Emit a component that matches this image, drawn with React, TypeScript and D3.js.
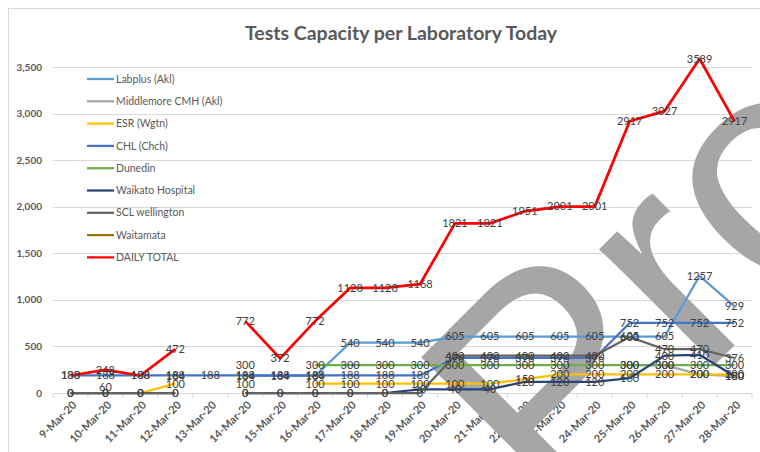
import React, { useEffect, useRef } from "react";
import * as d3 from "d3";

const dates = [
  "9-Mar-20", "10-Mar-20", "11-Mar-20", "12-Mar-20", "13-Mar-20",
  "14-Mar-20", "15-Mar-20", "16-Mar-20", "17-Mar-20", "18-Mar-20",
  "19-Mar-20", "20-Mar-20", "21-Mar-20", "22-Mar-20", "23-Mar-20",
  "24-Mar-20", "25-Mar-20", "26-Mar-20", "27-Mar-20", "28-Mar-20",
];

type V = number | null;
const _ = null;

const labplus: V[] = [_, 60, _, 184, _, 184, 184, 184, 540, 540, 540, 605, 605, 605, 605, 605, 605, 605, 1257, 929];
const middlemore: V[] = [_, _, _, _, _, _, _, _, _, _, _, _, _, _, _, _, 300, 300, 200, 180];
const esr: V[] = [0, 0, 0, 100, _, 100, _, 100, 100, 100, 100, 100, 100, 150, 200, 200, 200, 200, 200, 200];
const chl: V[] = [188, 188, 188, 188, 188, 188, 188, 188, 188, 188, 188, 376, 376, 376, 376, 376, 752, 752, 752, 752];
const dunedin: V[] = [_, _, _, _, _, 300, _, 300, 300, 300, 300, 300, 300, 300, 300, 300, 300, 300, 300, 300];
const waikato: V[] = [0, 0, 0, 0, _, 0, 0, 0, 0, 0, 40, 40, 40, 120, 120, 120, 160, 400, 410, 180];
const scl: V[] = [0, 0, 0, 0, _, 0, 0, 0, 0, 0, 0, 400, 400, 400, 400, 400, 600, 470, 470, 376];
const waitamata: V[] = [_, _, _, _, _, _, _, _, _, _, _, _, _, _, _, _, _, _, _, _];
const dailyTotal: V[] = [188, 248, 188, 472, _, 772, 372, 772, 1128, 1128, 1168, 1821, 1821, 1951, 2001, 2001, 2917, 3027, 3589, 2917];

const series = [
  { name: "Labplus (Akl)", values: labplus, color: "#5B9BD5" },
  { name: "Middlemore CMH (Akl)", values: middlemore, color: "#A5A5A5" },
  { name: "ESR (Wgtn)", values: esr, color: "#FFC000" },
  { name: "CHL (Chch)", values: chl, color: "#4472C4" },
  { name: "Dunedin", values: dunedin, color: "#70AD47" },
  { name: "Waikato Hospital", values: waikato, color: "#264478" },
  { name: "SCL wellington", values: scl, color: "#636363" },
  { name: "Waitamata", values: waitamata, color: "#997300" },
  { name: "DAILY TOTAL", values: dailyTotal, color: "#FF0000" },
];

const yTicks = [0, 500, 1000, 1500, 2000, 2500, 3000, 3500];

const FONT = "Lato, 'Open Sans', sans-serif";

export default function App() {
  const ref = useRef<SVGSVGElement>(null);

  useEffect(() => {
    const svg = d3.select(ref.current);
    svg.selectAll("*").remove();

    const left = 53;
    const right = 752;
    const x = d3.scaleBand().domain(dates).range([left, right]).padding(0);
    const y = d3.scaleLinear().domain([0, 3500]).range([393, 67]);
    const cx = (d: string) => (x(d) as number) + x.bandwidth() / 2;

    // chart border
    svg.append("rect")
      .attr("x", 8.5).attr("y", 8.5)
      .attr("width", 800).attr("height", 500)
      .attr("fill", "#fff").attr("stroke", "#D9D9D9");

    // gridlines
    svg.append("g").selectAll("line").data(yTicks).enter().append("line")
      .attr("x1", left).attr("x2", right)
      .attr("y1", (d) => Math.round(y(d)) + 0.5).attr("y2", (d) => Math.round(y(d)) + 0.5)
      .attr("stroke", "#D9D9D9").attr("stroke-width", 1);

    // category ticks
    svg.append("g").selectAll("line").data([...dates, "end"]).enter().append("line")
      .attr("x1", (d, i) => left + i * x.bandwidth()).attr("x2", (d, i) => left + i * x.bandwidth())
      .attr("y1", y(0)).attr("y2", y(0) + 5)
      .attr("stroke", "#D9D9D9");

    // y labels
    svg.append("g").selectAll("text").data(yTicks).enter().append("text")
      .attr("x", 42).attr("y", (d) => y(d)).attr("dy", "0.35em")
      .attr("text-anchor", "end")
      .attr("font-family", FONT).attr("font-size", 10).attr("font-weight", "bold")
      .attr("fill", "#595959")
      .text((d) => d3.format(",")(d));

    // x labels
    svg.append("g").selectAll("text").data(dates).enter().append("text")
      .attr("transform", (d) => `translate(${cx(d) + 4},${403}) rotate(-45)`)
      .attr("text-anchor", "end").attr("dy", "0.35em")
      .attr("font-family", FONT).attr("font-size", 11).attr("font-weight", "bold")
      .attr("fill", "#595959")
      .text((d) => d);

    // title
    svg.append("text")
      .attr("x", 401).attr("y", 40).attr("text-anchor", "middle")
      .attr("font-family", FONT).attr("font-size", 19.5).attr("font-weight", "bold")
      .attr("fill", "#595959")
      .text("Tests Capacity per Laboratory Today");

    // watermark
    svg.append("text")
      .attr("transform", "translate(554,526) rotate(-45)")
      .attr("font-family", "'Liberation Sans', Arial, sans-serif")
      .attr("font-size", 310).attr("fill", "#A6A6A6")
      .text("Provisional");

    // lines
    const line = d3.line<V>()
      .defined((d) => d !== null)
      .x((d, i) => cx(dates[i]))
      .y((d) => y(d as number));

    series.forEach((s) => {
      svg.append("path")
        .datum(s.values)
        .attr("d", line)
        .attr("fill", "none")
        .attr("stroke", s.color)
        .attr("stroke-width", s.name === "DAILY TOTAL" ? 2.75 : 2.25)
        .attr("stroke-linejoin", "round");
    });

    // data labels
    series.forEach((s) => {
      svg.append("g").selectAll("text")
        .data(s.values.map((v, i) => ({ v, i })).filter((d) => d.v !== null))
        .enter().append("text")
        .attr("x", (d) => cx(dates[d.i])).attr("y", (d) => y(d.v as number))
        .attr("dy", "0.35em").attr("text-anchor", "middle")
        .attr("font-family", FONT).attr("font-size", 11).attr("fill", "#404040")
        .text((d) => String(d.v));
    });

    // legend
    const legend = svg.append("g").attr("transform", "translate(87,79)");
    const items = legend.selectAll("g").data(series).enter().append("g")
      .attr("transform", (d, i) => `translate(0,${i * 22.3})`);
    items.append("line")
      .attr("x1", 0).attr("x2", 27).attr("y1", 0).attr("y2", 0)
      .attr("stroke", (d) => d.color).attr("stroke-width", 2.25);
    items.append("text")
      .attr("x", 29).attr("y", 0).attr("dy", "0.35em")
      .attr("font-family", FONT).attr("font-size", 10.5).attr("fill", "#595959")
      .text((d) => d.name);
  }, []);

  return (
    <svg
      ref={ref}
      width={760}
      height={452}
      style={{ position: "absolute", left: 0, top: 0, background: "#fff" }}
    />
  );
}
